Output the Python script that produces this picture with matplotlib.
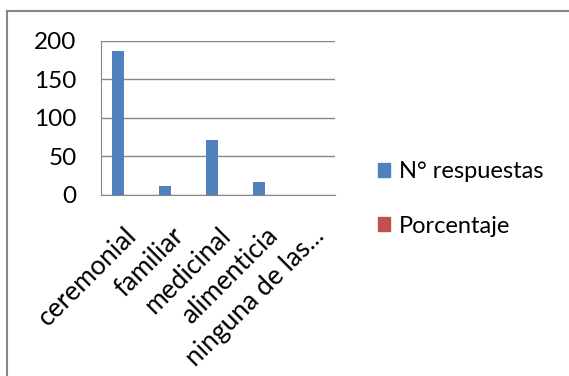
import numpy as np
import matplotlib
matplotlib.use("Agg")
import matplotlib.pyplot as plt
from matplotlib.patches import Patch
from matplotlib.lines import Line2D

categorias = ["ceremonial", "familiar", "medicinal", "alimenticia", "ninguna de las..."]
respuestas = [187, 12, 71, 17, 0]
porcentaje = [0, 0, 0, 0, 0]
series = ["N° respuestas", "Porcentaje"]
yticks = [0, 50, 100, 150, 200]

AZUL = "#4F81BD"
ROJO = "#C0504D"
GRIS = "#868686"

plt.rcParams["font.family"] = ["Lato", "DejaVu Sans"]

fig = plt.figure(figsize=(5.69, 3.76), dpi=100)
ax = fig.add_axes([0.1775, 0.4814, 0.4115, 0.4096])

x = np.arange(len(categorias))
w = 0.26
ax.bar(x - w / 2, respuestas, w, color=AZUL, zorder=3)
ax.bar(x + w / 2, porcentaje, w, color=ROJO, zorder=3)

ax.set_xlim(-0.5, len(categorias) - 0.5)
ax.set_ylim(0, 200)
ax.set_yticks(yticks)
ax.yaxis.grid(True, color=GRIS, lw=1)
ax.set_axisbelow(True)
for s in ["top", "right"]:
    ax.spines[s].set_visible(False)
for s in ["left", "bottom"]:
    ax.spines[s].set_color(GRIS)
ax.tick_params(axis="y", length=0, pad=17.5, labelsize=17.5, colors="#000000")
ax.tick_params(axis="x", length=0, pad=20, labelsize=19)
ax.set_xticks(x)
ax.set_xticklabels(categorias, rotation=45, ha="right", rotation_mode="anchor")

# leyenda a la derecha
handles = [Patch(color=AZUL), Patch(color=ROJO)]
fig.legend(handles, series, loc="center left", bbox_to_anchor=(0.627, 0.471),
           frameon=False, fontsize=17, handlelength=0.52, handleheight=0.52,
           handletextpad=0.35, labelspacing=1.42)

# marco exterior del gráfico (solo borde superior e izquierdo)
fig.add_artist(Line2D([0.013, 1.0], [0.972, 0.972], color=GRIS, lw=1.5,
                      transform=fig.transFigure))
fig.add_artist(Line2D([0.013, 0.013], [0.0, 0.972], color=GRIS, lw=1.5,
                      transform=fig.transFigure))

fig.savefig("out.png", dpi=100)
